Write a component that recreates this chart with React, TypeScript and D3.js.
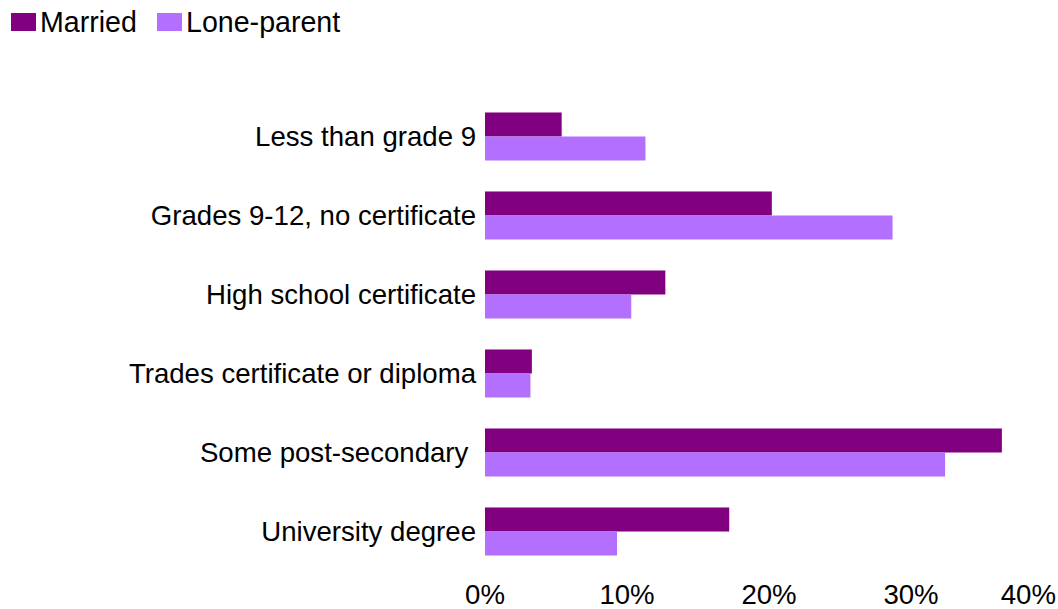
import React from "react";
import * as d3 from "d3";

const categories = [
  "Less than grade 9",
  "Grades 9-12, no certificate",
  "High school certificate",
  "Trades certificate or diploma",
  "Some post-secondary ",
  "University degree",
];
const seriesNames = ["Married", "Lone-parent"];
const married = [5.4, 20.2, 12.7, 3.3, 36.4, 17.2];
const loneParent = [11.3, 28.7, 10.3, 3.2, 32.4, 9.3];
const ticks = [0, 10, 20, 30, 40];
const colors = ["#800080", "#B370FF"];

const W = 1058;
const H = 609;

export default function App() {
  const x = d3.scaleLinear().domain([0, 40]).range([485, 1053]);
  const y = d3
    .scaleBand<string>()
    .domain(categories)
    .range([97, 571])
    .paddingInner(0.392)
    .paddingOuter(0.196);
  const inner = d3
    .scaleBand<string>()
    .domain(seriesNames)
    .range([0, y.bandwidth()]);
  const values = [married, loneParent];
  const font = "Arial, 'Liberation Sans', sans-serif";

  return (
    <svg
      width={W}
      height={H}
      style={{ position: "absolute", left: 0, top: 0, background: "#fff" }}
      fontFamily={font}
    >
      {/* legend */}
      {seriesNames.map((s, i) => {
        const lx = i === 0 ? 11 : 157;
        return (
          <g key={s}>
            <rect x={lx} y={13} width={25} height={18} fill={colors[i]} />
            <text x={lx + 29} y={32} fontSize={28.6} fill="#000">
              {s}
            </text>
          </g>
        );
      })}

      {/* bars */}
      {categories.map((c, ci) => (
        <g key={c}>
          {seriesNames.map((s, si) => (
            <rect
              key={s}
              x={x(0)}
              y={(y(c) as number) + (inner(s) as number)}
              width={x(values[si][ci]) - x(0)}
              height={inner.bandwidth()}
              fill={colors[si]}
            />
          ))}
          <text
            x={476}
            y={(y(c) as number) + y.bandwidth() / 2}
            dy="0.35em"
            textAnchor="end"
            fontSize={27.6}
            fill="#000"
            style={{ whiteSpace: "pre" }}
          >
            {c}
          </text>
        </g>
      ))}

      {/* x tick labels */}
      {ticks.map((t, i) => {
        const last = i === ticks.length - 1;
        return (
          <text
            key={t}
            x={last ? 1056 : x(t)}
            y={604}
            textAnchor={last ? "end" : "middle"}
            fontSize={27.6}
            fill="#000"
          >
            {t + "%"}
          </text>
        );
      })}
    </svg>
  );
}
